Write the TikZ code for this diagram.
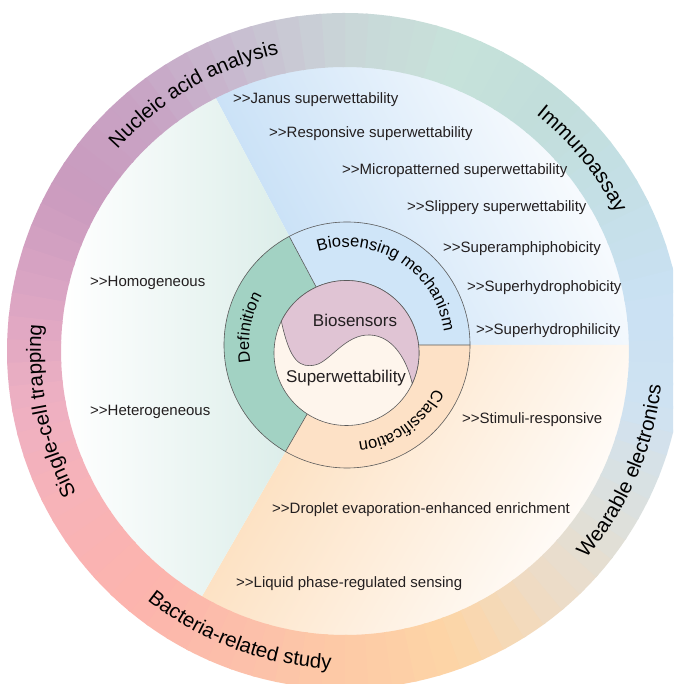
\documentclass[tikz,border=0pt]{standalone}
\usepackage{fontspec}
\setmainfont{Liberation Sans}
\usepackage{tikz}
\usetikzlibrary{calc,decorations.text}

\definecolor{txt}{HTML}{231F20}
\definecolor{linegray}{HTML}{5A5A5A}
\definecolor{defgreen}{HTML}{A2D2C3}
\definecolor{mechblue}{HTML}{CFE5F8}
\definecolor{classpeach}{HTML}{FDE1C6}
\definecolor{biopink}{HTML}{E0C4D4}
\definecolor{supercream}{HTML}{FEF5EC}
\definecolor{skysec}{HTML}{CBE2F7}
\definecolor{peachsec}{HTML}{FDE2C4}
\definecolor{tealsec}{HTML}{D3E9E4}
% outer ring colours, every 20 degrees from -130
\definecolor{ringA}{HTML}{FCB4AD}
\definecolor{ringB}{HTML}{FCBFAA}
\definecolor{ringC}{HTML}{FDCAA6}
\definecolor{ringD}{HTML}{FDD5A6}
\definecolor{ringE}{HTML}{EEDCC6}
\definecolor{ringF}{HTML}{DCE0DD}
\definecolor{ringG}{HTML}{CFE2F2}
\definecolor{ringH}{HTML}{CAE1F3}
\definecolor{ringI}{HTML}{C4DFE6}
\definecolor{ringJ}{HTML}{C2DEDB}
\definecolor{ringK}{HTML}{C7E2DA}
\definecolor{ringL}{HTML}{C9D6D8}
\definecolor{ringM}{HTML}{C8BCD0}
\definecolor{ringN}{HTML}{C8A3C4}
\definecolor{ringO}{HTML}{CA9BBF}
\definecolor{ringP}{HTML}{DBA5C3}
\definecolor{ringQ}{HTML}{EEB0C2}
\definecolor{ringR}{HTML}{F8B3B7}
\definecolor{ringS}{HTML}{FCB4AD}

\newcommand\ringfont{\fontsize{20.5}{20.5}\selectfont}
\newcommand\midfont{\fontsize{16.5}{16.5}\selectfont}

\tikzset{
    %Define style for lines
    outline/.style={
           draw=linegray,
           line width=0.6pt},
    %Define style for text on the outer ring
    ringtext/.style={
           decorate,
           decoration={text along path, text align=center, text={|\ringfont|#1}}},
    %Define style for text on the middle ring
    midtext/.style={
           decorate,
           decoration={text along path, text align=center, text={|\midfont|#1}}}
}

\begin{document}
\begin{tikzpicture}[x=1pt, y=1pt]
	% styles
	\tikzstyle{listitem} = [anchor=west, inner sep=0pt, text=txt, font=\fontsize{15}{18}\selectfont]
	\tikzstyle{hubtext} = [inner sep=0pt, text=txt, font=\fontsize{17}{20}\selectfont]

	\useasboundingbox (0,0) rectangle (673,684);
	\clip (0,0) rectangle (673,684);
	\fill[white] (0,0) rectangle (673,684);

	\coordinate (O) at (345,333);
	\coordinate (C) at (347,339);
	\coordinate (I) at (346.5,331);

	% sector backgrounds
	\begin{scope}
		\clip (C) -- ++(0:292) arc[start angle=0, end angle=118, radius=292] -- cycle;
		\shade[transform canvas={rotate around={28:(C)}}, left color=skysec, right color=white]
			($(C)+(0,-330)$) rectangle ($(C)+(330,330)$);
	\end{scope}
	\begin{scope}
		\clip (C) -- ++(240:292) arc[start angle=240, end angle=360, radius=292] -- cycle;
		\shade[transform canvas={rotate around={-30:(C)}}, left color=peachsec, right color=white]
			($(C)+(0,-330)$) rectangle ($(C)+(330,330)$);
	\end{scope}
	\begin{scope}
		\clip (C) -- ++(118:292) arc[start angle=118, end angle=240, radius=292] -- cycle;
		\shade[left color=white, right color=tealsec] ($(C)+(-283,-292)$) rectangle ($(C)+(0,292)$);
	\end{scope}

	% outer ring
	\begin{scope}[shift={(O)}]
		\foreach \a/\ca/\cb in {-130/ringA/ringB, -110/ringB/ringC, -90/ringC/ringD, -70/ringD/ringE,
		                        -50/ringE/ringF, -30/ringF/ringG, -10/ringG/ringH, 10/ringH/ringI,
		                        30/ringI/ringJ, 50/ringJ/ringK, 70/ringK/ringL, 90/ringL/ringM,
		                        110/ringM/ringN, 130/ringN/ringO, 150/ringO/ringP, 170/ringP/ringQ,
		                        190/ringQ/ringR, 210/ringR/ringS}
			\foreach \j in {0,...,4} {
				\pgfmathsetmacro\sa{\a+4*\j}
				\pgfmathsetmacro\sb{\a+4*\j+4.5}
				\pgfmathtruncatemacro\pct{90-20*\j}
				\fill[fill=\ca!\pct!\cb] (\sa:338) arc[start angle=\sa, end angle=\sb, radius=338]
					-- (\sb:284) arc[start angle=\sb, end angle=\sa, radius=284] -- cycle;
			}

		\path[ringtext={Nucleic acid analysis}] (160:304) arc[start angle=160, end angle=81, radius=304];
		\path[ringtext={Immunoassay}] (70:304) arc[start angle=70, end angle=8, radius=304];
		\path[ringtext={Wearable electronics}] (-60:318) arc[start angle=-60, end angle=13, radius=318];
		\path[ringtext={Bacteria-related study}] (220:318) arc[start angle=220, end angle=279, radius=318];
		\path[ringtext={Single-cell trapping}] (225:304) arc[start angle=225, end angle=158, radius=304];
	\end{scope}

	% middle ring
	\begin{scope}[shift={(C)}]
		\fill[defgreen] (0,0) -- (118:123) arc[start angle=118, end angle=240, radius=123] -- cycle;
		\fill[mechblue] (0,0) -- (0:123) arc[start angle=0, end angle=118, radius=123] -- cycle;
		\fill[classpeach] (0,0) -- (240:123) arc[start angle=240, end angle=360, radius=123] -- cycle;
		\draw[outline] (0,0) -- (0:123) (0,0) -- (118:123) (0,0) -- (240:123);
		\draw[outline] (0,0) circle[radius=123];

		\path[midtext={Biosensing mechanism}] (115:98) arc[start angle=115, end angle=0, radius=98];
		\path[midtext={Classification}] (-5:98) arc[start angle=-5, end angle=-105, radius=98];
		\path[midtext={Definition}] (200:98) arc[start angle=200, end angle=140, radius=98];
	\end{scope}

	% inner circle
	\coordinate (s0) at ($(I)+(154:72.5)$);
	\coordinate (s1) at ($(I)+(-25:72.5)$);
	\filldraw[outline, fill=supercream] (I) circle[radius=72.5];
	\filldraw[outline, fill=biopink] (s0) .. controls (290,322) and (300,316) .. (315,319)
		.. controls (330,322) and (345,350) .. (370,349)
		.. controls (395,348) and (408,320) .. (s1)
		arc[start angle=-25, end angle=154, radius=72.5] -- cycle;

	\node[hubtext] (hub-bio) at (355,364) {Biosensors};
	\node[hubtext] (hub-super) at (346,306) {Superwettability};

	% mechanism items
	\node[listitem] (mech-janus) at (233,584) {>{}>Janus superwettability};
	\node[listitem] (mech-resp) at (269,550) {>{}>Responsive superwettability};
	\node[listitem] (mech-micro) at (342,513) {>{}>Micropatterned superwettability};
	\node[listitem] (mech-slip) at (407,476) {>{}>Slippery superwettability};
	\node[listitem] (mech-amphi) at (443,435) {>{}>Superamphiphobicity};
	\node[listitem] (mech-phobic) at (467,396) {>{}>Superhydrophobicity};
	\node[listitem] (mech-philic) at (476,353) {>{}>Superhydrophilicity};

	% classification items
	\node[listitem] (class-stim) at (462,264) {>{}>Stimuli-responsive};
	\node[listitem] (class-drop) at (272,174) {>{}>Droplet evaporation-enhanced enrichment};
	\node[listitem] (class-liquid) at (236,100) {>{}>Liquid phase-regulated sensing};

	% definition items
	\node[listitem] (def-homo) at (90,401) {>{}>Homogeneous};
	\node[listitem] (def-hetero) at (90,272) {>{}>Heterogeneous};

\end{tikzpicture}
\end{document}
